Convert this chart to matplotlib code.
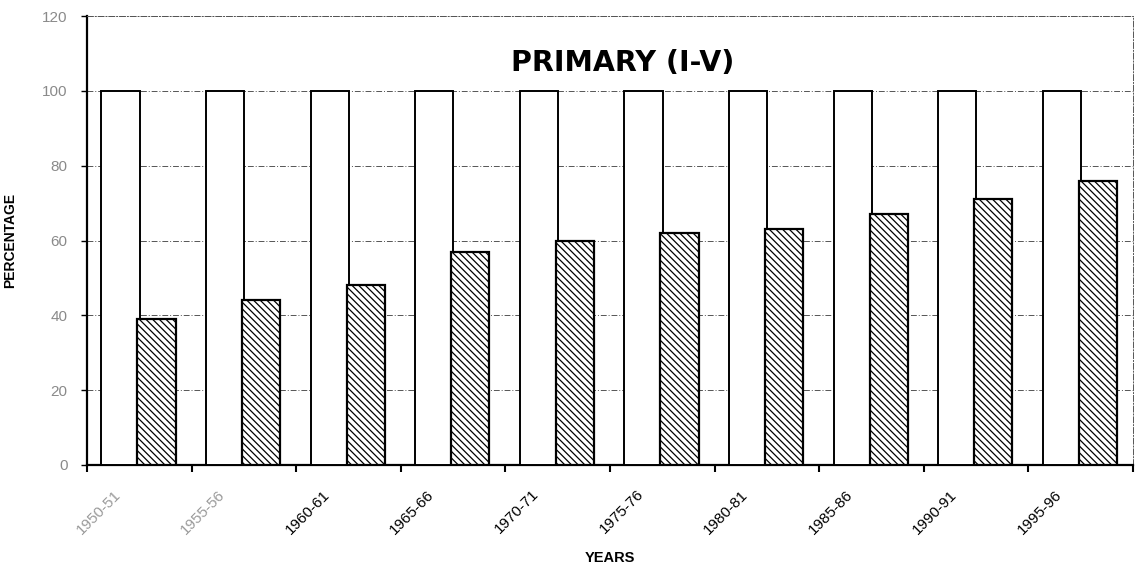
import numpy as np
import matplotlib
matplotlib.use("Agg")
import matplotlib.pyplot as plt
from matplotlib.transforms import ScaledTranslation

plt.rcParams['font.family'] = ['Liberation Sans', 'DejaVu Sans']
plt.rcParams['hatch.linewidth'] = 0.9

# data
years = ['1950-51', '1955-56', '1960-61', '1965-66', '1970-71',
         '1975-76', '1980-81', '1985-86', '1990-91', '1995-96']
total = [100, 100, 100, 100, 100, 100, 100, 100, 100, 100]
enrolled = [39, 44, 48, 57, 60, 62, 63, 67, 71, 76]
yticks = [0, 20, 40, 60, 80, 100, 120]

fig = plt.figure(figsize=(11.39, 5.72), dpi=100)
ax = fig.add_axes([87/1139, 1 - 465/572, (1133-87)/1139, (465-16)/572])

x = np.arange(len(years))
w = 0.365
ax.bar(x - 0.18, total, width=w, color='white', edgecolor='black',
       linewidth=1.4, zorder=3)
ax.bar(x + 0.165, enrolled, width=w, color='white', edgecolor='black',
       linewidth=1.6, hatch='\\\\\\\\\\', zorder=3)

ax.set_xlim(-0.5, len(years) - 0.5)
ax.set_ylim(0, 120)
ax.set_yticks(yticks)
ax.tick_params(axis='y', labelsize=11, labelcolor='#8a8a8a', length=4, width=1,
               pad=10)
ax.yaxis.grid(True, linestyle=(0, (6, 2, 1, 2)), color='#555555', linewidth=0.7,
              zorder=0)

# tick marks between categories, labels at group centres
ax.set_xticks(np.arange(len(years) + 1) - 0.5, minor=True)
ax.set_xticks(x)
ax.set_xticklabels(years, rotation=45, ha='right', va='top',
                   rotation_mode='anchor', fontsize=11)
ax.tick_params(axis='x', which='major', length=0, pad=16)
ax.tick_params(axis='x', which='minor', length=5, width=1.5, direction='out')
off = ScaledTranslation(-0.26, 0, fig.dpi_scale_trans)
for i, lab in enumerate(ax.get_xticklabels()):
    lab.set_transform(lab.get_transform() + off)
    if i < 2:
        lab.set_color('#9a9a9a')

for s in ['left', 'bottom']:
    ax.spines[s].set_linewidth(1.6)
for s in ['top', 'right']:
    ax.spines[s].set_linestyle((0, (6, 2, 1, 2)))
    ax.spines[s].set_linewidth(0.7)
    ax.spines[s].set_color('#555555')

ax.text(0.512, 0.895, 'PRIMARY (I-V)', transform=ax.transAxes, ha='center',
        va='center', fontsize=20.5, fontweight='bold', family='DejaVu Sans')
ax.set_ylabel('PERCENTAGE', fontsize=10, fontweight='bold', labelpad=18)
ax.set_xlabel('YEARS', fontsize=10.5, fontweight='bold', labelpad=10)

fig.savefig('out.png', dpi=100)
